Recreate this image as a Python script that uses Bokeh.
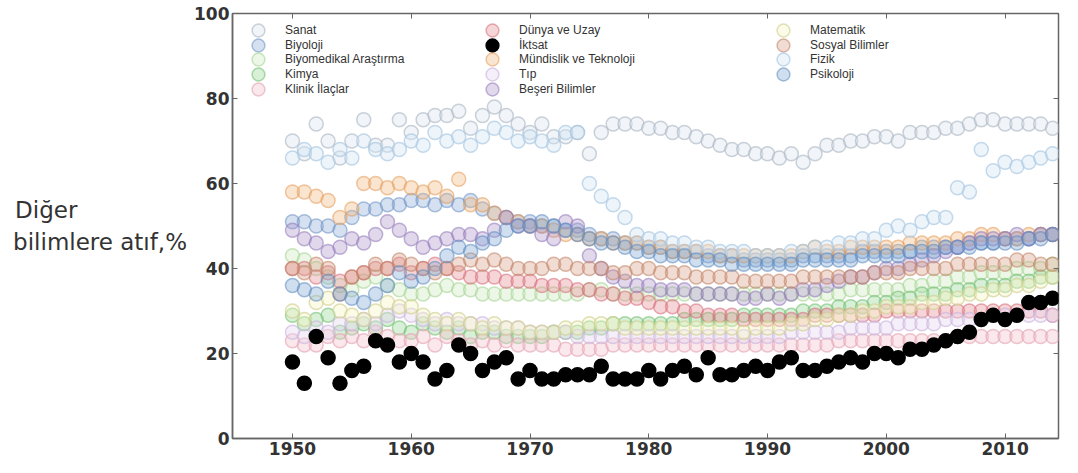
from bokeh.plotting import figure
from bokeh.models import (Legend, LegendItem, LinearAxis, FixedTicker,
                          Range1d, ColumnDataSource)
from bokeh.embed import file_html
from bokeh.resources import INLINE

years = list(range(1950, 2015))

x_ticks = [1950, 1960, 1970, 1980, 1990, 2000, 2010]
y_ticks = [0, 20, 40, 60, 80, 100]
y_title_lines = ["Diğer", "bilimlere atıf,%"]

categories = ["Sanat", "Biyoloji", "Biyomedikal Araştırma", "Kimya", "Klinik İlaçlar",
              "Dünya ve Uzay", "İktsat", "Mündislik ve Teknoloji", "Tıp", "Beşeri Bilimler",
              "Matematik", "Sosyal Bilimler", "Fizik", "Psikoloji"]

sanat = [70, 67, 74, 70, 66, 70, 75, 69, 69, 75, 72, 75, 76, 76, 77, 73, 76, 78, 76, 74,
         72, 74, 71, 71, 72, 67, 72, 74, 74, 74, 73, 73, 72, 72, 71, 70, 69, 68, 68, 67,
         67, 66, 67, 65, 67, 69, 69, 70, 70, 71, 71, 70, 72, 72, 72, 73, 73, 74, 75, 75,
         74, 74, 74, 74, 73]
biyoloji = [51, 51, 50, 50, 49, 52, 54, 54, 55, 55, 56, 56, 55, 56, 55, 56, 54, 53, 52, 51,
            51, 50, 50, 49, 49, 48, 47, 47, 46, 46, 45, 45, 44, 44, 44, 43, 43, 43, 42, 42,
            42, 42, 42, 43, 43, 43, 43, 43, 44, 44, 44, 44, 44, 45, 45, 45, 45, 46, 46, 46,
            47, 47, 47, 48, 48]
biyomedikal = [43, 42, 40, 38, 36, 35, 37, 38, 36, 35, 34, 34, 35, 36, 35, 35, 34, 34, 34, 34,
               34, 34, 34, 34, 34, 35, 35, 34, 34, 34, 34, 34, 34, 34, 34, 34, 34, 34, 34, 34,
               34, 34, 34, 34, 34, 34, 34, 35, 35, 35, 35, 35, 36, 36, 37, 37, 38, 38, 39, 39,
               39, 40, 40, 40, 41]
kimya = [29, 27, 28, 29, 25, 26, 27, 26, 28, 26, 25, 27, 26, 25, 26, 24, 25, 25, 24, 24,
         24, 24, 25, 25, 25, 26, 26, 27, 27, 27, 27, 27, 27, 28, 28, 28, 28, 28, 29, 29,
         29, 29, 29, 30, 30, 30, 31, 31, 31, 32, 32, 33, 33, 34, 34, 34, 35, 35, 36, 36,
         36, 37, 37, 38, 38]
klinik = [23, 22, 22, 24, 23, 24, 23, 25, 24, 23, 23, 24, 22, 24, 23, 22, 23, 22, 23, 22,
          22, 22, 22, 21, 21, 21, 21, 22, 22, 22, 22, 22, 22, 22, 22, 22, 22, 22, 22, 22,
          22, 22, 22, 22, 22, 22, 23, 23, 23, 23, 23, 23, 23, 23, 23, 23, 24, 24, 24, 24,
          24, 24, 24, 24, 24]
dunya = [40, 40, 38, 39, 37, 38, 39, 40, 40, 41, 39, 40, 41, 40, 39, 38, 38, 38, 37, 37,
         37, 36, 36, 36, 35, 35, 34, 34, 33, 33, 32, 31, 31, 30, 30, 29, 29, 29, 28, 28,
         28, 28, 28, 28, 29, 29, 29, 29, 29, 29, 30, 30, 30, 30, 30, 30, 30, 30, 30, 30,
         30, 30, 30, 30, 29]
iktsat = [18, 13, 24, 19, 13, 16, 17, 23, 22, 18, 20, 18, 14, 16, 22, 20, 16, 18, 19, 14,
          16, 14, 14, 15, 15, 15, 17, 14, 14, 14, 16, 14, 16, 17, 15, 19, 15, 15, 16, 17,
          16, 18, 19, 16, 16, 17, 18, 19, 18, 20, 20, 19, 21, 21, 22, 23, 24, 25, 28, 29,
          28, 29, 32, 32, 33]
muhendislik = [58, 58, 57, 56, 52, 54, 60, 60, 59, 60, 59, 58, 59, 57, 61, 55, 55, 53, 52, 51,
               50, 50, 49, 48, 48, 47, 47, 46, 46, 46, 45, 45, 44, 44, 44, 44, 43, 43, 43, 43,
               43, 43, 43, 44, 45, 44, 44, 45, 45, 45, 45, 45, 46, 46, 46, 46, 47, 47, 48, 48,
               47, 47, 48, 48, 48]
tip = [25, 24, 26, 25, 27, 27, 28, 27, 29, 30, 29, 28, 27, 28, 27, 27, 27, 26, 26, 26,
       25, 25, 25, 25, 24, 24, 24, 24, 24, 24, 24, 24, 24, 24, 24, 24, 24, 24, 24, 24,
       24, 24, 25, 25, 25, 25, 25, 26, 26, 26, 26, 27, 27, 27, 27, 28, 28, 28, 28, 29,
       29, 29, 29, 29, 29]
beseri = [49, 47, 46, 44, 45, 47, 46, 48, 51, 49, 47, 45, 46, 47, 48, 48, 47, 49, 52, 50,
          50, 48, 47, 51, 50, 43, 40, 38, 37, 36, 36, 35, 35, 35, 34, 34, 34, 34, 33, 33,
          34, 33, 34, 35, 35, 36, 37, 38, 38, 39, 40, 40, 41, 42, 43, 44, 45, 46, 47, 47,
          47, 48, 47, 48, 48]
matematik = [30, 28, 32, 33, 30, 29, 28, 30, 32, 31, 31, 29, 28, 27, 28, 27, 26, 27, 26, 26,
             25, 25, 25, 26, 26, 27, 27, 27, 26, 26, 26, 26, 26, 26, 26, 26, 26, 26, 25, 26,
             26, 26, 27, 27, 28, 28, 29, 29, 30, 30, 31, 31, 31, 32, 32, 33, 33, 34, 34, 35,
             35, 36, 36, 37, 38]
sosyal = [40, 39, 41, 40, 34, 38, 39, 41, 40, 42, 41, 40, 39, 40, 41, 42, 41, 42, 41, 40,
          40, 40, 41, 41, 40, 40, 40, 39, 39, 40, 40, 39, 39, 39, 38, 38, 38, 38, 37, 37,
          37, 37, 37, 38, 38, 38, 38, 38, 38, 39, 39, 39, 40, 40, 40, 40, 41, 41, 41, 41,
          41, 42, 42, 41, 41]
fizik = [66, 68, 67, 65, 68, 66, 70, 68, 67, 68, 70, 69, 72, 70, 71, 69, 71, 73, 72, 70,
         71, 70, 69, 72, 72, 60, 57, 55, 52, 48, 47, 47, 46, 46, 45, 45, 44, 44, 44, 43,
         43, 43, 44, 44, 45, 45, 46, 46, 47, 47, 49, 50, 49, 51, 52, 52, 59, 58, 68, 63,
         65, 64, 65, 66, 67]
psikoloji = [36, 35, 34, 37, 34, 33, 32, 34, 36, 39, 37, 38, 40, 43, 45, 44, 46, 47, 49, 50,
             50, 51, 50, 49, 48, 47, 46, 46, 45, 44, 44, 43, 43, 43, 42, 42, 42, 41, 41, 41,
             41, 41, 41, 42, 42, 42, 42, 42, 43, 43, 43, 43, 44, 44, 44, 45, 45, 45, 46, 46,
             46, 46, 47, 47, 48]

series_values = [sanat, biyoloji, biyomedikal, kimya, klinik, dunya, iktsat, muhendislik,
                 tip, beseri, matematik, sosyal, fizik, psikoloji]

# style: (fill colour, line colour, fill alpha, line alpha)
styles = [
    ("#dde4ee", "#a9b4c2", 0.40, 0.6),
    ("#86a9d6", "#6b8fc2", 0.35, 0.55),
    ("#d2ecc4", "#a6d495", 0.40, 0.6),
    ("#8fd08f", "#6cbc6c", 0.35, 0.55),
    ("#f4c6cf", "#e3a2b0", 0.40, 0.6),
    ("#e68890", "#d36b76", 0.35, 0.55),
    ("#000000", "#000000", 1.0, 1.0),
    ("#f2b47a", "#e49a58", 0.35, 0.55),
    ("#e6d8f0", "#c8b2dc", 0.40, 0.6),
    ("#a88ec8", "#8f76b8", 0.35, 0.55),
    ("#f5f5c6", "#cfcf92", 0.40, 0.65),
    ("#d49a80", "#bf7f63", 0.35, 0.55),
    ("#d2e6f6", "#a7c6e0", 0.40, 0.65),
    ("#78a2d0", "#5c88bd", 0.35, 0.55),
]

p = figure(width=1062, height=457,
           x_range=Range1d(1944.95, 2014.5), y_range=Range1d(0, 100),
           output_backend="svg", toolbar_location=None,
           min_border_left=232, min_border_top=13, min_border_right=4, min_border_bottom=0)

p.background_fill_color = "white"
p.border_fill_color = "white"
p.xgrid.visible = False
p.ygrid.visible = False
p.outline_line_color = "#666666"
p.outline_line_width = 1.5

# first line padded with non-breaking spaces so the right-aligned block reads left-aligned
pad = "\u00a0" * 15
y_title = y_title_lines[0] + pad + "\n" + y_title_lines[1]

tick_font = "DejaVu Sans"
for ax in p.xaxis:
    ax.ticker = FixedTicker(ticks=x_ticks)
for ax in p.yaxis:
    ax.ticker = FixedTicker(ticks=y_ticks)
    ax.axis_label = y_title
    ax.axis_label_orientation = "horizontal"
    ax.axis_label_text_font = "DejaVu Sans"
    ax.axis_label_text_font_size = "23px"
    ax.axis_label_text_font_style = "normal"
    ax.axis_label_text_color = "#333333"
    ax.axis_label_standoff = 4
for ax in list(p.xaxis) + list(p.yaxis):
    ax.axis_line_color = "#666666"
    ax.axis_line_width = 1.5
    ax.major_tick_in = 5
    ax.major_tick_out = 0
    ax.major_tick_line_color = "#666666"
    ax.minor_tick_line_color = None
    ax.major_label_text_font = tick_font
    ax.major_label_text_font_style = "bold"
    ax.major_label_text_font_size = "17px"
    ax.major_label_text_color = "#333333"
    ax.major_label_standoff = 3

top_axis = LinearAxis(ticker=FixedTicker(ticks=x_ticks),
                      major_label_overrides={t: "" for t in x_ticks},
                      major_tick_in=5, major_tick_out=0, major_tick_line_color="#666666",
                      minor_tick_line_color=None, axis_line_color=None, major_label_standoff=0)
right_axis = LinearAxis(ticker=FixedTicker(ticks=y_ticks),
                        major_label_overrides={t: "" for t in y_ticks},
                        major_tick_in=5, major_tick_out=0, major_tick_line_color="#666666",
                        minor_tick_line_color=None, axis_line_color=None, major_label_standoff=0)
p.add_layout(top_axis, "above")
p.add_layout(right_axis, "right")

order = [i for i in range(len(categories)) if categories[i] != "İktsat"] + [categories.index("İktsat")]
rmap = {}
for i in order:
    fc, lc, fa, la = styles[i]
    src = ColumnDataSource(dict(x=years, y=series_values[i]))
    r = p.scatter(x="x", y="y", source=src, marker="circle", size=14,
                  fill_color=fc, fill_alpha=fa, line_color=lc, line_alpha=la, line_width=1.5)
    rmap[i] = r

# legends: three columns, one legend per entry for exact placement
col_x = [10, 244, 535]
row_pitch = 14.7
top_vy = 392
for i, name in enumerate(categories):
    col, row = divmod(i, 5)
    leg = Legend(items=[LegendItem(label=name, renderers=[rmap[i]])],
                 location=(col_x[col], top_vy - row * row_pitch),
                 glyph_width=32, glyph_height=32, label_height=14,
                 label_standoff=11, padding=0, margin=0, spacing=0,
                 border_line_alpha=0, background_fill_alpha=0,
                 label_text_font="Liberation Sans", label_text_font_size="12px",
                 label_text_color="#333333")
    p.add_layout(leg)

open("out.html", "w").write(file_html(p, INLINE))
